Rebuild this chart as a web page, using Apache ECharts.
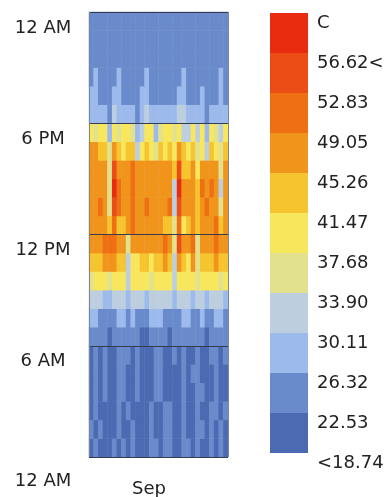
<!DOCTYPE html>
<html>
<head>
<meta charset="utf-8">
<script src="https://cdn.jsdelivr.net/npm/echarts@6/dist/echarts.min.js"></script>
<style>
html, body { margin: 0; padding: 0; background: #fff; }
#chart { width: 387px; height: 497px; }
</style>
</head>
<body>
<div id="chart"></div>
<script>
// days of september, hours of the day
var days = [];
for (var d = 1; d <= 30; d++) days.push('Sep ' + d);
var hours = [];
for (var h = 0; h < 24; h++) hours.push(h);

// tick labels on the hour axis (every 6 hours)
var hourLabels = ['12 AM', '6 AM', '12 PM', '6 PM', '12 AM'];

// legend class breaks, colours and labels (low -> high)
var legendBreaks = [18.74, 22.53, 26.32, 30.11, 33.90, 37.68, 41.47, 45.26, 49.05, 52.83, 56.62];
var legendColors = ['rgba(255,255,255,0)', '#4b6ab2', '#6a8bcb', '#9dbaec', '#bdcfde', '#e2e28e',
	'#f8e65c', '#f6c42f', '#f1941c', '#ee7013', '#ec4c15', '#e92c10'];
var legendLabels = ['<18.74', '22.53', '26.32', '30.11', '33.90', '37.68', '41.47', '45.26',
	'49.05', '52.83', '56.62<', 'C'];

// temperature, temps[hour][day]
var temps = [
	/* 0 */ [21.2,23.4,21.8,21.0,20.6,22.9,22.0,23.0,22.1,23.1,21.7,20.2,20.0,24.2,22.8,21.9,23.8,24.0,21.4,21.0,23.2,23.2,21.5,24.1,21.9,21.2,23.9,22.0,23.0,21.3],
	/* 1 */ [22.8,21.5,23.0,20.7,20.5,21.0,23.1,21.2,21.8,23.0,21.1,20.0,19.8,24.0,21.2,21.5,23.7,23.3,21.1,20.7,23.3,21.2,21.0,23.9,22.9,20.8,23.8,21.6,23.1,21.0],
	/* 2 */ [21.0,23.1,21.2,20.8,20.6,21.1,23.0,21.4,23.0,21.6,21.2,20.1,19.9,23.7,21.3,21.4,23.4,23.2,21.0,20.8,23.1,21.3,21.1,23.6,21.5,20.9,23.5,23.0,21.2,23.2],
	/* 3 */ [21.2,22.9,21.0,23.4,20.8,21.3,23.1,23.3,21.5,21.1,23.0,20.3,20.1,21.4,23.0,22.8,21.2,20.9,21.7,21.3,23.5,21.0,21.8,23.2,23.0,20.8,21.6,23.0,21.2,21.5],
	/* 4 */ [21.4,23.0,21.2,23.8,21.0,21.6,23.4,23.4,21.7,21.3,23.0,20.5,20.3,21.6,23.0,22.9,21.4,21.1,21.9,21.5,23.9,21.2,23.1,23.2,21.6,21.0,21.8,23.3,21.4,21.7],
	/* 5 */ [21.8,23.2,21.5,24.0,21.2,21.9,23.8,23.5,23.0,21.6,23.0,20.8,20.5,21.9,23.1,23.1,21.7,21.4,23.2,21.8,24.1,21.5,22.0,23.6,21.9,21.3,23.4,23.2,21.7,23.0],
	/* 6 */ [24.6,25.1,24.3,23.9,22.2,24.7,25.4,25.0,24.2,24.8,23.7,22.0,21.8,24.9,25.2,24.4,24.1,22.3,24.0,24.6,25.3,24.9,24.2,25.0,24.5,22.1,24.7,24.3,24.8,24.4],
	/* 7 */ [27.4,27.8,25.6,25.2,24.9,25.8,27.6,27.3,25.4,27.1,25.9,25.3,25.0,27.5,27.2,27.0,25.7,25.5,25.1,25.9,27.7,27.3,25.6,25.8,27.4,25.2,25.9,27.6,27.2,25.7],
	/* 8 */ [31.8,32.2,31.5,29.4,29.0,31.9,32.4,31.6,28.5,32.0,31.7,31.3,29.6,32.3,31.9,31.4,32.1,31.8,28.7,32.5,31.6,31.2,29.3,32.2,31.7,29.1,31.9,32.0,31.5,29.5],
	/* 9 */ [37.2,39.0,38.6,39.4,37.0,39.8,38.9,39.5,32.1,39.2,38.7,39.6,40.1,37.4,39.3,39.9,40.4,39.1,32.4,40.6,39.0,38.8,40.2,35.5,39.4,39.7,39.1,40.3,37.3,39.5],
	/* 10 */ [43.5,44.0,43.2,46.0,46.4,46.8,43.8,44.2,32.6,40.8,41.2,43.0,43.6,40.9,42.8,43.4,46.3,43.1,32.9,46.9,43.7,41.0,46.1,36.0,43.3,44.1,42.9,45.9,43.5,43.8],
	/* 11 */ [47.0,46.6,47.3,49.7,50.5,51.0,46.8,47.4,35.4,46.9,47.2,46.5,47.0,46.7,47.3,46.4,50.1,46.9,35.1,53.6,47.1,46.6,50.4,35.7,47.0,46.8,47.4,49.6,46.9,47.2],
	/* 12 */ [47.4,46.9,47.8,47.2,44.3,51.6,43.9,44.7,47.0,50.2,47.5,46.8,47.3,47.9,46.6,47.1,44.8,44.1,35.9,51.8,40.9,43.6,47.7,43.2,47.5,47.9,46.9,50.3,44.5,47.2],
	/* 13 */ [48.0,47.6,49.6,48.2,36.1,55.3,50.1,47.8,48.3,51.2,47.9,48.1,49.5,48.4,47.7,48.0,47.5,49.8,33.0,55.8,48.2,47.6,48.5,44.0,48.1,49.9,48.3,47.8,35.2,48.0],
	/* 14 */ [47.8,48.2,47.5,48.0,35.8,57.4,49.8,48.1,47.7,50.9,48.3,47.6,48.5,47.9,48.0,47.4,48.6,47.8,33.2,57.0,47.9,47.3,48.4,44.6,49.7,48.2,49.9,48.0,33.5,47.6],
	/* 15 */ [47.5,47.1,46.8,47.9,36.4,54.2,47.3,46.9,47.6,50.4,47.2,47.8,46.6,47.4,47.0,48.1,47.5,46.9,44.2,54.6,43.8,44.5,48.0,40.5,47.6,48.2,47.3,47.9,36.3,47.2],
	/* 16 */ [46.2,45.8,44.6,43.9,36.2,46.5,42.8,40.8,42.2,43.0,32.9,40.3,42.5,40.6,36.0,42.0,41.1,42.9,40.1,46.8,42.3,39.9,43.1,36.5,40.6,33.2,42.7,40.4,36.9,42.4],
	/* 17 */ [39.2,36.8,38.9,39.5,29.6,40.1,37.2,39.0,38.8,37.0,29.2,32.8,39.4,38.9,29.8,37.3,39.1,40.0,37.1,40.6,32.4,33.1,39.0,32.6,39.3,29.5,39.8,37.4,33.0,39.2],
	/* 18 */ [28.4,28.9,28.1,27.6,25.8,30.6,28.8,28.3,28.7,28.5,25.9,29.2,30.8,28.6,27.9,28.0,28.8,29.1,28.4,31.0,30.7,28.9,28.2,28.7,29.4,26.0,28.6,27.8,29.5,28.5],
	/* 19 */ [27.0,27.4,25.6,24.6,25.8,27.2,27.6,25.8,26.1,26.0,24.2,27.1,27.5,26.0,25.4,25.2,26.1,26.2,25.8,27.3,27.8,26.1,25.6,26.0,27.0,25.7,26.1,24.5,27.5,25.9],
	/* 20 */ [25.7,26.8,25.0,24.1,25.3,26.1,27.0,25.2,25.8,25.6,23.6,25.9,26.9,25.5,24.9,24.7,25.6,26.0,25.3,25.9,27.1,25.7,25.1,25.5,26.2,25.2,25.6,24.0,26.9,25.4],
	/* 21 */ [25.2,25.6,24.7,23.6,24.9,25.9,25.5,24.8,25.4,25.3,23.2,25.2,25.8,25.1,24.5,24.3,25.2,25.6,24.9,25.4,26.0,25.3,24.7,25.1,25.7,24.8,25.2,23.5,25.4,25.0],
	/* 22 */ [24.9,25.3,24.4,23.4,24.6,25.6,25.2,24.5,25.1,25.0,23.0,24.9,25.5,24.8,24.2,24.0,24.9,25.3,24.6,25.1,25.7,25.0,24.4,24.8,25.4,24.5,24.9,23.3,25.1,24.7],
	/* 23 */ [24.6,25.1,24.2,23.2,24.8,25.4,25.0,24.3,24.9,25.2,23.0,24.7,25.3,24.5,24.0,23.8,24.6,25.0,24.4,24.9,25.5,24.8,24.1,24.6,25.2,24.3,24.7,23.1,24.9,24.5]
];

(function() {
	var font = 'DejaVu Sans';

	// heatmap data [day, hour, value]
	var data = [];
	for (var i = 0; i < hours.length; i++) {
		for (var j = 0; j < days.length; j++) {
			data.push([j, i, temps[i][j]]);
		}
	}

	// piecewise classes, low -> high
	// trailing newline lifts each label up to the top edge of its box
	var pieces = [];
	for (var k = 0; k < legendLabels.length; k++) {
		var p = { label: legendLabels[k] + '\n', color: legendColors[k] };
		if (k > 0) p.gte = legendBreaks[k - 1];
		if (k < legendBreaks.length) p.lt = legendBreaks[k];
		pieces.push(p);
	}

	var chart = echarts.init(document.getElementById('chart'));

	chart.setOption({
		animation: false,
		grid: {
			left: 89,
			top: 12,
			width: 139,
			height: 445,
			containLabel: false,
			outerBoundsMode: 'none'
		},
		xAxis: [{
			type: 'category',
			data: days,
			axisLine: { show: false },
			axisTick: { show: false },
			axisLabel: { show: false },
			splitLine: { show: false },
			name: 'Sep',
			nameLocation: 'middle',
			nameGap: 23,
			nameTextStyle: {
				fontFamily: font,
				fontSize: 18,
				color: '#222',
				padding: [0, 19, 0, 0]
			}
		}, {
			// only used for the left / right frame lines
			type: 'value',
			min: 0,
			max: 1,
			interval: 1,
			position: 'top',
			axisLine: { show: false },
			axisTick: { show: false },
			axisLabel: { show: false },
			splitLine: { show: true, lineStyle: { color: '#7d8594', width: 1 } },
			z: 10
		}],
		yAxis: [{
			type: 'category',
			data: hours,
			axisLine: { show: false },
			axisTick: { show: false },
			axisLabel: { show: false },
			splitLine: { show: false }
		}, {
			// hour labels + 6 hour lines drawn over the cells
			type: 'value',
			min: 0,
			max: 24,
			interval: 6,
			position: 'left',
			axisLine: { show: false },
			axisTick: { show: false },
			splitLine: { show: true, lineStyle: { color: '#343c4e', width: 1 } },
			axisLabel: {
				fontFamily: font,
				fontSize: 18,
				color: '#222',
				align: 'center',
				margin: 46,
				padding: [32, 0, 0, 0],
				formatter: function (v) {
					var t = hourLabels[v / 6];
					return v === 0 ? '{low|' + t + '}' : t;
				},
				rich: {
					low: {
						fontFamily: font,
						fontSize: 18,
						color: '#222',
						padding: [16, 0, 0, 0]
					}
				}
			},
			z: 10
		}],
		visualMap: {
			type: 'piecewise',
			seriesIndex: 0,
			dimension: 2,
			orient: 'vertical',
			align: 'left',
			left: 270,
			top: 13,
			padding: 0,
			itemWidth: 38,
			itemHeight: 40,
			itemGap: 0,
			itemSymbol: 'rect',
			textGap: 9,
			pieces: pieces,
			textStyle: {
				fontFamily: font,
				fontSize: 18,
				lineHeight: 20,
				color: '#222'
			}
		},
		series: [{
			type: 'heatmap',
			xAxisIndex: 0,
			yAxisIndex: 0,
			data: data,
			itemStyle: { borderWidth: 0 },
			emphasis: { disabled: true }
		}]
	});
})();
</script>
</body>
</html>
